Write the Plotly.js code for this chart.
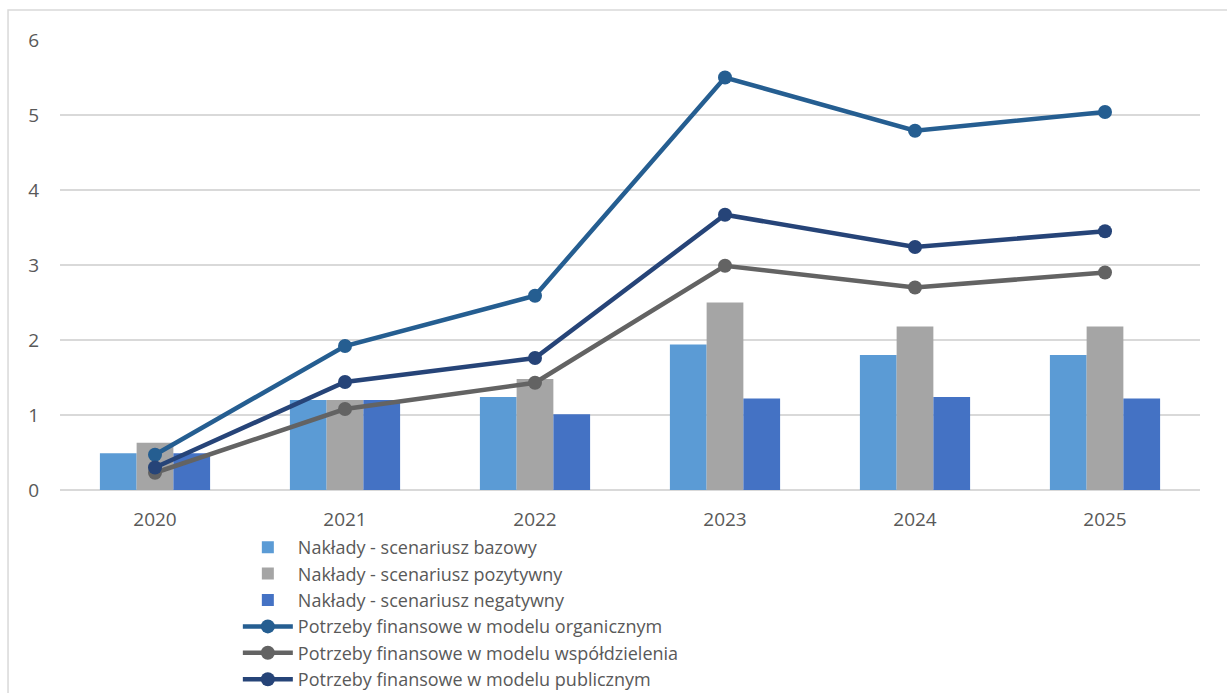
<!DOCTYPE html>
<html>
<head>
<meta charset="utf-8">
<script src="https://cdn.plot.ly/plotly-3.0.1.min.js"></script>
<style>html,body{margin:0;padding:0;background:#fff;}#chart{width:1227px;height:693px;}</style>
</head>
<body>
<div id="chart"></div>
<script>
const years = ['2020', '2021', '2022', '2023', '2024', '2025'];
const nakladyBazowy = [0.49, 1.20, 1.24, 1.94, 1.80, 1.80];
const nakladyPozytywny = [0.63, 1.20, 1.48, 2.50, 2.18, 2.18];
const nakladyNegatywny = [0.49, 1.20, 1.01, 1.22, 1.24, 1.22];
const potrzebyOrganiczny = [0.47, 1.92, 2.59, 5.50, 4.79, 5.04];
const potrzebyWspoldzielenia = [0.23, 1.08, 1.43, 2.99, 2.70, 2.90];
const potrzebyPubliczny = [0.30, 1.44, 1.76, 3.67, 3.24, 3.45];

const barNames = ['Nakłady - scenariusz bazowy', 'Nakłady - scenariusz pozytywny', 'Nakłady - scenariusz negatywny'];
const lineNames = ['Potrzeby finansowe w modelu organicznym', 'Potrzeby finansowe w modelu współdzielenia', 'Potrzeby finansowe w modelu publicznym'];

const barColors = ['#5B9BD5', '#A5A5A5', '#4472C4'];
const lineColors = ['#255E91', '#636363', '#264478'];

const barData = [nakladyBazowy, nakladyPozytywny, nakladyNegatywny];
const lineData = [potrzebyOrganiczny, potrzebyWspoldzielenia, potrzebyPubliczny];

const traces = [];
barData.forEach((vals, i) => {
  traces.push({
    type: 'bar', x: years, y: vals, name: barNames[i],
    marker: {color: barColors[i], line: {width: 0}}
  });
});
lineData.forEach((vals, i) => {
  traces.push({
    type: 'scatter', mode: 'lines+markers', x: years, y: vals, name: lineNames[i],
    line: {color: lineColors[i], width: 4.5},
    marker: {color: lineColors[i], size: 14}
  });
});

const fontFam = '"Open Sans", "DejaVu Sans", sans-serif';
const layout = {
  width: 1227, height: 693,
  margin: {l: 60, r: 27, t: 40, b: 203, autoexpand: false},
  paper_bgcolor: '#ffffff', plot_bgcolor: '#ffffff',
  font: {family: fontFam, size: 19, color: '#595959'},
  barmode: 'group', bargap: 0.42, bargroupgap: 0,
  showlegend: true,
  legend: {
    x: 0.156, y: -0.0867, xanchor: 'left', yanchor: 'top',
    orientation: 'v', traceorder: 'normal',
    font: {family: fontFam, size: 18, color: '#595959'},
    tracegroupgap: 0, itemwidth: 50, bgcolor: 'rgba(0,0,0,0)'
  },
  xaxis: {
    type: 'category', range: [-0.5, 5.5], showgrid: false, zeroline: false,
    showline: false, ticks: '', ticklabelstandoff: 16,
    tickfont: {size: 19, color: '#595959'}
  },
  yaxis: {
    range: [0, 6], dtick: 1, tick0: 0, showgrid: true, gridcolor: '#d9d9d9', gridwidth: 1.5,
    zeroline: true, zerolinecolor: '#d9d9d9', zerolinewidth: 1.5,
    showline: false, ticks: '', ticklabelstandoff: 20,
    tickfont: {size: 19, color: '#595959'}
  },
  shapes: [{
    type: 'rect', xref: 'paper', yref: 'paper',
    x0: -0.0456, x1: 1.03, y0: -0.5, y1: 1.0667,
    line: {color: '#d9d9d9', width: 1.5}, fillcolor: 'rgba(0,0,0,0)', layer: 'below'
  }]
};

Plotly.newPlot('chart', traces, layout, {displayModeBar: false, staticPlot: true});
</script>
</body>
</html>
